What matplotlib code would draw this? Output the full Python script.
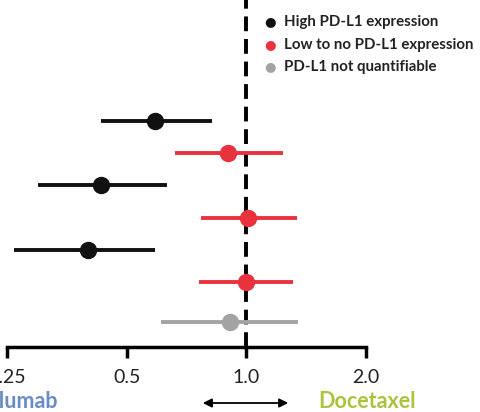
import matplotlib.pyplot as plt
from matplotlib.patches import FancyArrowPatch

plt.rcParams['font.family'] = ['Lato', 'DejaVu Sans']

# hazard ratios and 95% CI, top to bottom
hr = [0.59, 0.90, 0.43, 1.01, 0.40, 1.00, 0.91]
lo = [0.43, 0.66, 0.30, 0.77, 0.26, 0.76, 0.61]
hi = [0.82, 1.24, 0.63, 1.34, 0.59, 1.31, 1.35]
group = ['high', 'low', 'high', 'low', 'high', 'low', 'nq']
rows = [0, 1, 2, 3, 4, 5, 6.25]

colors = {'high': '#111111', 'low': '#e8323d', 'nq': '#a3a3a3'}
legend_labels = {'high': 'High PD-L1 expression',
                 'low': 'Low to no PD-L1 expression',
                 'nq': 'PD-L1 not quantifiable'}
ticks = [0.25, 0.5, 1.0, 2.0]
tick_labels = ['0.25', '0.5', '1.0', '2.0']

fig = plt.figure(figsize=(4.8, 4.12), dpi=100)
ax = fig.add_axes([7 / 480, 65 / 412, 359 / 480, 347 / 412])

for y, h, l, u, g in zip(rows, hr, lo, hi, group):
    c = colors[g]
    ax.plot([l, u], [y, y], color=c, lw=2.8, solid_capstyle='butt', zorder=2)
    ax.plot(h, y, 'o', color=c, ms=11.5, zorder=3)

ax.axvline(1.0, color='black', lw=2.8, dashes=(3.8, 2), zorder=1)

ax.set_xscale('log', base=2)
ax.set_xlim(0.25, 2.0)
ax.set_ylim(7.02, -3.76)
ax.set_xticks(ticks)
ax.set_xticklabels(tick_labels, fontsize=14, color='#222222')
ax.minorticks_off()
ax.tick_params(axis='x', direction='out', length=8, width=2.5, pad=8)
ax.set_yticks([])
for s in ['top', 'left', 'right']:
    ax.spines[s].set_visible(False)
ax.spines['bottom'].set_linewidth(2.5)
ax.patch.set_alpha(0)

# legend
for i, g in enumerate(['high', 'low', 'nq']):
    yy = 1 - (22 + 22.5 * i) / 412
    fig.text(270 / 480, yy, '\u25CF', color=colors[g], fontsize=9.5,
             ha='center', va='center', family=['DejaVu Sans'])
    fig.text(284 / 480, yy, legend_labels[g], fontsize=10.8, fontweight='bold',
             color='#222222', ha='left', va='center')

# bottom annotations
fig.text(58 / 480, 1 - 401 / 412, 'Nivolumab', color='#6a8bc6', fontsize=15.5,
         fontweight='bold', ha='right', va='center')
fig.text(318 / 480, 1 - 402 / 412, 'Docetaxel', color='#aac43f', fontsize=15.5,
         fontweight='bold', ha='left', va='center')
fig.add_artist(FancyArrowPatch(
    (200 / 480, 1 - 403 / 412), (291 / 480, 1 - 403 / 412),
    transform=fig.transFigure, arrowstyle='<|-|>', mutation_scale=13,
    color='black', lw=1.3))

fig.savefig('out.png', dpi=100)
